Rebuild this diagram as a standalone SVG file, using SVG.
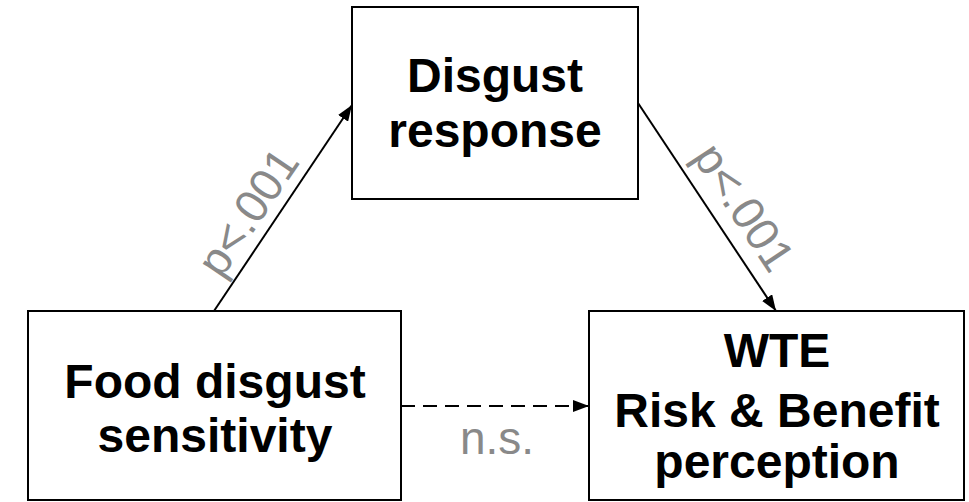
<svg xmlns="http://www.w3.org/2000/svg" width="969" height="502" viewBox="0 0 969 502">
  <style>
    .box { fill: #ffffff; stroke: #000000; stroke-width: 2; }
    .lbl { font-family: "Liberation Sans", Arial, sans-serif; font-weight: bold; font-size: 48px; fill: #000000; text-anchor: middle; }
    .stat { font-family: "Liberation Sans", Arial, sans-serif; font-size: 46px; fill: #898989; text-anchor: middle; }
    .conn { stroke: #000000; stroke-width: 2; fill: none; }
  </style>
  <defs>
    <marker id="arrow" markerUnits="userSpaceOnUse" markerWidth="16" markerHeight="12" refX="16" refY="6" orient="auto">
      <path d="M0,0 L16,6 L0,12 z" fill="#000000"/>
    </marker>
  </defs>
  <rect width="969" height="502" fill="#ffffff"/>
  <g id="connectors">
    <line class="conn" x1="214" y1="311" x2="352" y2="105" marker-end="url(#arrow)"/>
    <line class="conn" x1="638" y1="103" x2="776" y2="311" marker-end="url(#arrow)"/>
    <line class="conn" x1="401" y1="406" x2="589" y2="406" stroke-dasharray="14,8" marker-end="url(#arrow)"/>
    <text class="stat" transform="translate(261,221) rotate(-56)">p&lt;.001</text>
    <text class="stat" transform="translate(731,216) rotate(56.5)">p&lt;.001</text>
    <text class="stat" x="497" y="454">n.s.</text>
  </g>
  <g id="disgust-response">
    <rect class="box" x="352" y="7" width="286" height="192"/>
    <text class="lbl" x="495" y="92">Disgust</text>
    <text class="lbl" x="495" y="147">response</text>
  </g>
  <g id="food-disgust-sensitivity">
    <rect class="box" x="28" y="311" width="373" height="189"/>
    <text class="lbl" x="215" y="398">Food disgust</text>
    <text class="lbl" x="215" y="452">sensitivity</text>
  </g>
  <g id="wte">
    <rect class="box" x="589" y="311" width="375" height="189"/>
    <text class="lbl" x="777" y="367">WTE</text>
    <text class="lbl" x="777" y="427">Risk &amp; Benefit</text>
    <text class="lbl" x="777" y="478">perception</text>
  </g>
</svg>
